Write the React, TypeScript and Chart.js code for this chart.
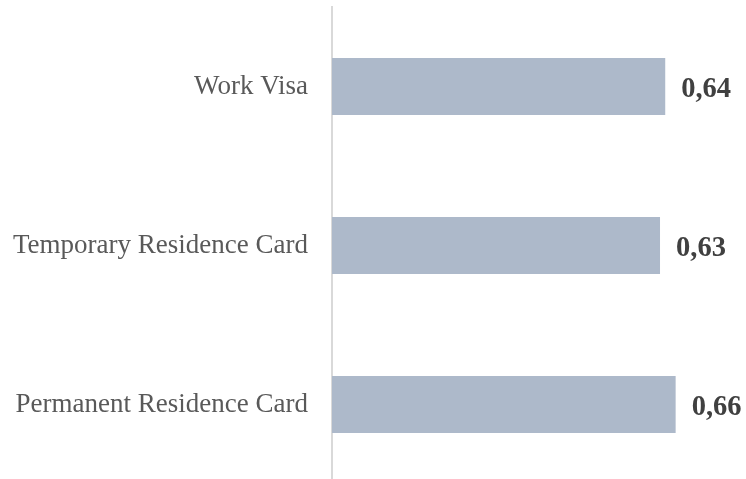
import React, { useEffect, useRef } from "react";
import { Chart, registerables } from "chart.js";

Chart.register(...registerables);

const categories = ["Work Visa", "Temporary Residence Card", "Permanent Residence Card"];
const values = [0.64, 0.63, 0.66];
const valueLabels = ["0,64", "0,63", "0,66"];

const valueLabelPlugin = {
  id: "valueLabels",
  afterDatasetsDraw(chart: any) {
    const ctx = chart.ctx;
    const meta = chart.getDatasetMeta(0);
    ctx.save();
    ctx.font = "bold 28.5px 'Liberation Serif', 'Times New Roman', serif";
    ctx.fillStyle = "#404040";
    ctx.textAlign = "left";
    ctx.textBaseline = "alphabetic";
    meta.data.forEach((bar: any, i: number) => {
      ctx.fillText(valueLabels[i], bar.x + 16, bar.y + 10);
    });
    ctx.restore();
  },
};

export default function App() {
  const ref = useRef<HTMLCanvasElement>(null);
  useEffect(() => {
    if (!ref.current) return;
    const chart = new Chart(ref.current, {
      type: "bar",
      data: {
        labels: categories,
        datasets: [
          {
            data: values,
            backgroundColor: "#adb9ca",
            barPercentage: 0.36,
            categoryPercentage: 1,
          },
        ],
      },
      options: {
        indexAxis: "y",
        animation: false,
        responsive: false,
        layout: { padding: { top: 7, right: 23.5, bottom: 0, left: 0 } },
        plugins: { legend: { display: false }, tooltip: { enabled: false } },
        scales: {
          x: { display: false, min: 0, max: 0.75 },
          y: {
            afterFit: (scale: any) => {
              scale.width = 332;
              scale.paddingTop = 0;
              scale.paddingBottom = 0;
            },
            grid: { display: false, drawTicks: false },
            border: { display: true, color: "#d9d9d9", width: 2 },
            ticks: {
              padding: 24,
              color: "#595959",
              font: { family: "'Liberation Serif', 'Times New Roman', serif", size: 27 },
            },
          },
        },
      },
      plugins: [valueLabelPlugin],
    });
    return () => chart.destroy();
  }, []);
  return (
    <div style={{ position: "absolute", left: 0, top: 0, width: 746, height: 479, overflow: "hidden" }}>
      <canvas ref={ref} width={746} height={484} style={{ display: "block", width: 746, height: 484 }} />
    </div>
  );
}
